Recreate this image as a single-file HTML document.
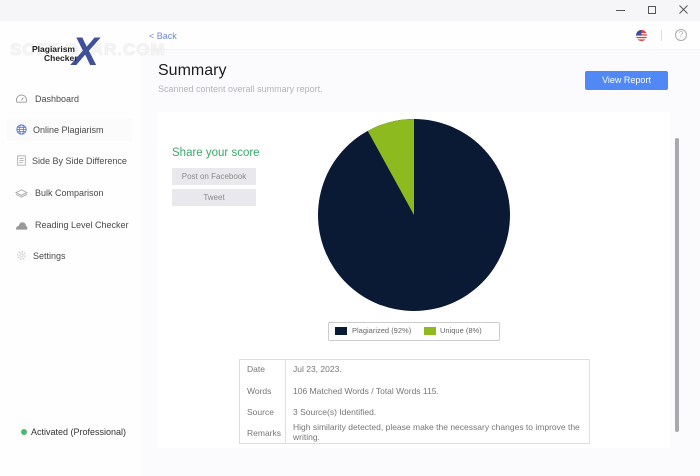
<!DOCTYPE html>
<html><head><meta charset="utf-8">
<style>
*{margin:0;padding:0;box-sizing:border-box}
body{width:700px;height:476px;overflow:hidden;background:#fbfbfd;font-family:"Liberation Sans",sans-serif;position:relative;color:#333}
.abs{position:absolute;white-space:nowrap}
.titlebar{position:absolute;left:0;top:0;width:700px;height:21px;background:#f6f6f8}
.sidebar{position:absolute;left:0;top:21px;width:141px;height:455px;background:#fefefe}
.header{position:absolute;left:141px;top:21px;width:559px;height:29px;background:#fefefe;border-bottom:1px solid #f2f2f5}
.card{position:absolute;left:158px;top:112px;width:512px;height:336px;background:#fff}
.nav{position:absolute;left:35px;font-size:9px;color:#4a4a4a}
.icon{position:absolute;left:15px;width:13px;height:11px}
.btn{position:absolute;left:172px;width:84px;height:17px;background:#e9e9ed;color:#8a8a8a;font-size:8px;text-align:center;line-height:17px}
.tbl{position:absolute;left:239px;top:359px;width:351px;height:85px;border:1px solid #cfe3ea}
.row{position:absolute;font-size:8.5px;color:#777}
.val{position:absolute;left:293px;font-size:8.5px;color:#777}
</style></head><body>
<div class="titlebar"></div>
<div class="sidebar"></div>
<div class="header"></div>
<div class="card"></div>

<!-- window controls -->
<div class="abs" style="left:616px;top:10px;width:9px;height:1px;background:#555"></div>
<div class="abs" style="left:648px;top:6px;width:8px;height:8px;border:1px solid #555"></div>
<svg class="abs" style="left:679px;top:5px" width="9" height="9" viewBox="0 0 9 9"><path d="M0.5 0.5 L8.5 8.5 M8.5 0.5 L0.5 8.5" stroke="#555" stroke-width="1"/></svg>

<!-- flag & help -->
<svg class="abs" style="left:636px;top:30px" width="11" height="11" viewBox="0 0 11 11">
<circle cx="5.5" cy="5.5" r="5.5" fill="#e03c3c"/>
<rect x="0" y="3" width="11" height="1.3" fill="#fff"/><rect x="0" y="5.6" width="11" height="1.3" fill="#fff"/><rect x="0" y="8.2" width="11" height="1.2" fill="#fff"/>
<path d="M0 5.5 A5.5 5.5 0 0 1 5.5 0 L5.5 5.5Z" fill="#3b4fa0"/>
</svg>
<div class="abs" style="left:661px;top:30px;width:1px;height:11px;background:#ddd"></div>
<div class="abs" style="left:675px;top:29px;width:12px;height:12px;border:1px solid #aaa;border-radius:50%;font-size:8px;color:#aaa;text-align:center;line-height:10px">?</div>

<!-- back -->
<div class="abs" style="left:149px;top:31px;font-size:9px;color:#6a8ad8">&lt; Back</div>

<!-- logo -->
<div class="abs" style="left:10px;top:40px;font-size:17px;font-weight:bold;color:#f4f4f4;letter-spacing:1px;text-shadow:0 0 1px #cfcfcf">SOFT OZAR.COM</div>
<div class="abs" style="left:72px;top:32px;font-size:40px;font-weight:bold;color:#2b3f8f;font-style:italic;line-height:40px;opacity:0.9">X</div>
<div class="abs" style="left:32px;top:44px;font-size:8.5px;font-weight:bold;color:#222">Plagiarism</div>
<div class="abs" style="left:44px;top:53px;font-size:8.5px;font-weight:bold;color:#222">Checker</div>

<!-- summary -->
<div class="abs" style="left:158px;top:62px;font-size:16px;color:#1e1e1e">Summary</div>
<div class="abs" style="left:158px;top:84px;font-size:9px;color:#b4b4bc">Scanned content overall summary report.</div>
<div class="abs" style="left:585px;top:71px;width:83px;height:19px;background:#5088f5;border-radius:2px;color:#fff;font-size:9px;text-align:center;line-height:19px">View Report</div>

<!-- sidebar nav -->
<svg class="icon" style="top:93px" width="13" height="12" viewBox="0 0 13 12"><path d="M1.5 10 A5.5 5.5 0 1 1 11.5 10 Z" fill="none" stroke="#999" stroke-width="1"/><line x1="6.5" y1="8" x2="8.5" y2="5" stroke="#999"/></svg>
<div class="nav" style="top:94px">Dashboard</div>
<div class="abs" style="left:7px;top:119px;width:125px;height:22px;background:#fbfbfc"></div>
<svg class="icon" style="top:124px" width="13" height="13" viewBox="0 0 13 13"><circle cx="6.5" cy="6.5" r="5.5" fill="none" stroke="#5a7fd8" stroke-width="1.2"/><ellipse cx="6.5" cy="6.5" rx="2.5" ry="5.5" fill="none" stroke="#5a7fd8"/><line x1="1" y1="6.5" x2="12" y2="6.5" stroke="#5a7fd8"/><line x1="2" y1="4" x2="11" y2="4" stroke="#5a7fd8"/><line x1="2" y1="9" x2="11" y2="9" stroke="#5a7fd8"/></svg>
<div class="nav" style="top:125px;left:33px">Online Plagiarism</div>
<svg class="icon" style="top:155px" width="13" height="13" viewBox="0 0 13 13"><rect x="2" y="1" width="9" height="11" fill="none" stroke="#aaa"/><line x1="4" y1="4" x2="9" y2="4" stroke="#aaa"/><line x1="4" y1="6.5" x2="9" y2="6.5" stroke="#aaa"/><line x1="4" y1="9" x2="8" y2="9" stroke="#aaa"/></svg>
<div class="nav" style="top:156px;left:32px">Side By Side Difference</div>
<svg class="icon" style="top:188px" width="14" height="12" viewBox="0 0 14 12"><path d="M1 5 L7 2 L13 5 L7 8 Z" fill="none" stroke="#aaa"/><path d="M1 7 L7 10 L13 7" fill="none" stroke="#aaa"/></svg>
<div class="nav" style="top:188px">Bulk Comparison</div>
<svg class="icon" style="top:220px" width="14" height="11" viewBox="0 0 14 11"><path d="M1 10 Q1 6 4 6 Q5 2 8 2 Q11 2 12 6 Q14 7 13 10 Z" fill="#999"/></svg>
<div class="nav" style="top:220px">Reading Level Checker</div>
<svg class="icon" style="top:250px" width="13" height="13" viewBox="0 0 13 13"><circle cx="6.5" cy="6.5" r="4.5" fill="none" stroke="#ccc" stroke-width="1.5" stroke-dasharray="2 1.5"/><circle cx="6.5" cy="6.5" r="2" fill="none" stroke="#ccc"/></svg>
<div class="nav" style="top:251px;left:33px">Settings</div>

<div class="abs" style="left:21px;top:429px;width:6px;height:6px;border-radius:50%;background:#4cba6e"></div>
<div class="abs" style="left:31px;top:427px;font-size:9px;color:#333">Activated (Professional)</div>

<!-- share -->
<div class="abs" style="left:172px;top:147px;font-size:11.5px;color:#3aa86a">Share your score</div>
<div class="btn" style="top:168px">Post on Facebook</div>
<div class="btn" style="top:189px">Tweet</div>

<!-- pie -->
<svg class="abs" style="left:318px;top:119px" width="192" height="192" viewBox="0 0 192 192">
<circle cx="96" cy="96" r="96" fill="#0a1a35"/>
<path d="M96 96 L96 0 A96 96 0 0 0 49.75 11.87 Z" fill="#8dbb1f"/>
</svg>

<!-- legend -->
<div class="abs" style="left:328px;top:322px;width:172px;height:19px;border:1px solid #ccc;border-radius:2px;background:#fff"></div>
<div class="abs" style="left:335px;top:327px;width:12px;height:8px;background:#0a1a35"></div>
<div class="abs" style="left:352px;top:326px;font-size:7.5px;color:#666">Plagiarized (92%)</div>
<div class="abs" style="left:424px;top:327px;width:12px;height:8px;background:#8dbb1f"></div>
<div class="abs" style="left:440px;top:326px;font-size:7.5px;color:#666">Unique (8%)</div>

<!-- table -->
<div class="tbl"></div>
<div class="abs" style="left:285px;top:360px;width:1px;height:83px;background:#cfe3ea"></div>
<div class="row abs" style="left:247px;top:364px">Date</div>
<div class="val abs" style="top:364px">Jul 23, 2023.</div>
<div class="row abs" style="left:247px;top:386px">Words</div>
<div class="val abs" style="top:386px">106 Matched Words / Total Words 115.</div>
<div class="row abs" style="left:247px;top:407px">Source</div>
<div class="val abs" style="top:407px">3 Source(s) Identified.</div>
<div class="row abs" style="left:247px;top:428px">Remarks</div>
<div class="val abs" style="top:422px">High similarity detected, please make the necessary changes to improve the</div>
<div class="val abs" style="top:432px">writing.</div>

<!-- scrollbar -->
<div class="abs" style="left:675px;top:138px;width:4px;height:294px;background:#a9a9ad;border-radius:2px"></div>
</body></html>
